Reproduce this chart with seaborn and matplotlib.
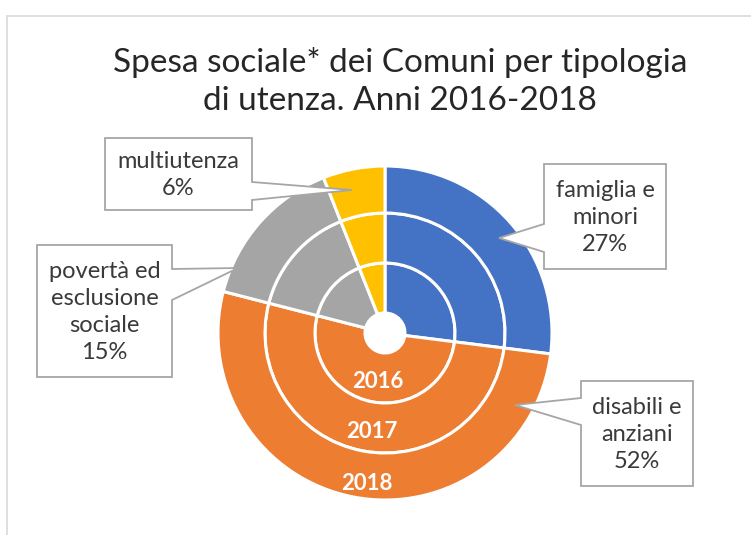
import matplotlib
matplotlib.use("Agg")
import matplotlib.pyplot as plt
from matplotlib.patches import Polygon, Rectangle
import seaborn as sns
import numpy as np

# ---- data ----
categories = ["famiglia e\nminori", "disabili e\nanziani", "povertà ed\nesclusione\nsociale", "multiutenza"]
years = ["2016", "2017", "2018"]
share_2016 = [27, 52, 15, 6]
share_2017 = [27, 52, 15, 6]
share_2018 = [27, 52, 15, 6]
colors = ["#4472C4", "#ED7D31", "#A5A5A5", "#FFC000"]

sns.set_theme(style="white")
plt.rcParams["font.family"] = ["Lato", "DejaVu Sans"]

W, H = 751, 535
fig = plt.figure(figsize=(W / 100, H / 100), dpi=100)
ax = fig.add_axes([0, 0, 1, 1])

def Y(y):  # image y (top-down) -> data y (bottom-up)
    return H - y

cx, cy = 385, Y(333)
ring_outer = [70, 120, 167]
ring_width = [50, 50, 47]
palette = sns.color_palette(colors)

for vals, r, w in zip([share_2016, share_2017, share_2018], ring_outer, ring_width):
    ax.pie(vals, colors=palette, radius=r, center=(cx, cy), startangle=90,
           counterclock=False, frame=True,
           wedgeprops=dict(width=w, edgecolor="white", linewidth=2.2))

# year labels
year_pos = [(378, 381), (372, 431), (367, 483)]
for yr, (xp, yp) in zip(years, year_pos):
    ax.text(xp, Y(yp), yr, ha="center", va="center", color="white",
            fontsize=16, fontweight="bold")

# chart frame
ax.add_patch(Rectangle((7, Y(560)), 780, 560 - 16, fill=False, edgecolor="#d9d9d9", lw=1.2))

# title
ax.text(400, Y(62), "Spesa sociale* dei Comuni per tipologia", ha="center", va="center",
        fontsize=24, color="#262626")
ax.text(400, Y(101), "di utenza. Anni 2016-2018", ha="center", va="center",
        fontsize=24, color="#262626")

# callouts: box (L, T, R, B), pointer side, base y range, tip
pct_2018 = [f"{v}%" for v in share_2018]
callouts = [
    (categories[0], pct_2018[0], (544, 164, 666, 269), "left", (224, 252), (499, 238)),
    (categories[1], pct_2018[1], (581, 381, 693, 486), "left", (398, 425), (515, 405)),
    (categories[2], pct_2018[2], (37, 245, 172, 377), "right", (269, 300), (238, 268)),
    (categories[3], pct_2018[3], (105, 138, 252, 210), "right", (182, 200), (352, 190)),
]
for label, pct, (L, T, R, B), side, (b1, b2), (tx, ty) in callouts:
    if side == "left":
        pts = [(L, T), (R, T), (R, B), (L, B), (L, b2), (tx, ty), (L, b1)]
    else:
        pts = [(L, T), (R, T), (R, b1), (tx, ty), (R, b2), (R, B), (L, B)]
    poly = Polygon([(x, Y(y)) for x, y in pts], closed=True, facecolor="white",
                   edgecolor="#a6a6a6", lw=1.3, zorder=5)
    ax.add_patch(poly)
    ax.text((L + R) / 2, Y((T + B) / 2 + 1), label + "\n" + pct, ha="center", va="center",
            fontsize=17, color="#3a3a3a", linespacing=1.34, zorder=6)

ax.set_xlim(0, W)
ax.set_ylim(0, H)
ax.set_aspect("auto")
ax.axis("off")
fig.savefig("out.png", dpi=100, facecolor="white")
